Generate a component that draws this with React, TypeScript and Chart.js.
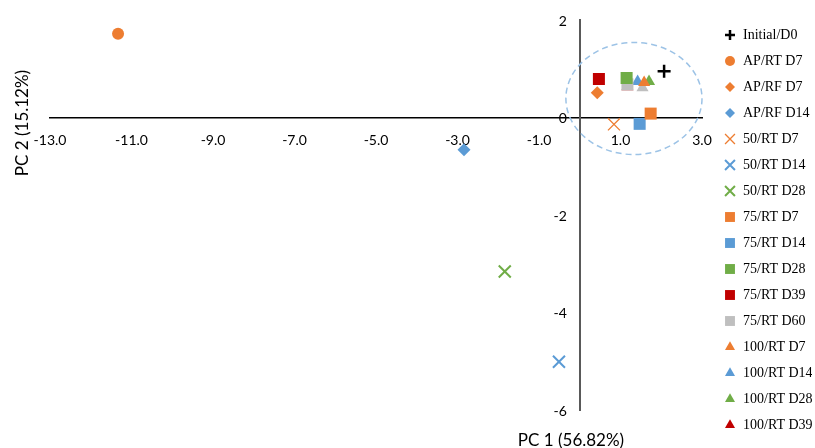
import React, { useEffect, useRef } from "react";
import { Chart, registerables } from "chart.js";
import { drawPoint } from "chart.js/helpers";

Chart.register(...registerables);

// ---- data ----
const seriesLabels = [
  "Initial/D0",
  "AP/RT D7",
  "AP/RF D7",
  "AP/RF D14",
  "50/RT D7",
  "50/RT D14",
  "50/RT D28",
  "75/RT D7",
  "75/RT D14",
  "75/RT D28",
  "75/RT D39",
  "75/RT D60",
  "100/RT D7",
  "100/RT D14",
  "100/RT D28",
  "100/RT D39",
  "100/RT D60",
];
const pc1Values = [2.07, -11.33, 0.43, -2.84, 0.84, -0.51, -1.84, 1.74, 1.47, 1.15, 0.47, 1.17, 1.58, 1.42, 1.7, 1.17, 1.54];
const pc2Values = [0.95, 1.72, 0.51, -0.66, -0.14, -5.01, -3.16, 0.08, -0.13, 0.81, 0.79, 0.68, 0.72, 0.74, 0.74, 0.63, 0.61];
const hiddenFromLegend = ["100/RT D60"];

const xTicksRange = { min: -13, max: 3, step: 2 };
const yTicksRange = { min: -6, max: 2, step: 2 };
const xAxisTitle = "PC 1 (56.82%)";
const yAxisTitle = "PC 2 (15.12%)";

// cluster ellipse in data units
const ellipseCenter = { x: 1.33, y: 0.39 };
const ellipseRadii = { x: 1.67, y: 1.15 };

// ---- styles ----
const ORANGE = "#ED7D31";
const BLUE = "#5B9BD5";
const GREEN = "#70AD47";
const RED = "#C00000";
const GRAY = "#BFBFBF";
const seriesColors = [
  "#000000", ORANGE, ORANGE, BLUE, ORANGE, BLUE, GREEN,
  ORANGE, BLUE, GREEN, RED, GRAY, ORANGE, BLUE, GREEN, RED, GRAY,
];
const seriesStyles = [
  "cross", "circle", "rectRot", "rectRot", "crossRot", "crossRot", "crossRot",
  "rect", "rect", "rect", "rect", "rect", "triangle", "triangle", "triangle", "triangle", "triangle",
];
const styleRadius: Record<string, number> = {
  cross: 6.5, circle: 6, rectRot: 6.5, crossRot: 8.5, rect: 8.5, triangle: 7,
};
const legendRadius: Record<string, number> = {
  cross: 5, circle: 5, rectRot: 5, crossRot: 7, rect: 7, triangle: 5.8,
};

const TICK_FONT = "Lato";

function lineWidthFor(style: string, label: string) {
  if (style === "cross") return 2.5;
  if (style === "crossRot") return label === "50/RT D7" ? 1.3 : 2;
  return 0;
}

function legendMarker(style: string, color: string, lw: number) {
  const c = document.createElement("canvas");
  c.width = 16;
  c.height = 16;
  const ctx = c.getContext("2d")!;
  ctx.fillStyle = color;
  ctx.strokeStyle = color;
  ctx.lineWidth = lw;
  drawPoint(ctx, { pointStyle: style, radius: legendRadius[style], rotation: 0, borderWidth: lw } as any, 8, 8);
  return c;
}

const overlayPlugin = {
  id: "overlay",
  beforeDatasetsDraw(chart: any) {
    const { ctx, scales } = chart;
    const x = scales.x;
    const y = scales.y;
    const cx = x.getPixelForValue(ellipseCenter.x);
    const cy = y.getPixelForValue(ellipseCenter.y);
    const rx = Math.abs(x.getPixelForValue(ellipseCenter.x + ellipseRadii.x) - cx);
    const ry = Math.abs(y.getPixelForValue(ellipseCenter.y + ellipseRadii.y) - cy);
    ctx.save();
    ctx.strokeStyle = "#9DC3E6";
    ctx.lineWidth = 1.5;
    ctx.setLineDash([6, 4]);
    ctx.beginPath();
    ctx.ellipse(cx, cy, rx, ry, 0, 0, Math.PI * 2);
    ctx.stroke();
    ctx.restore();
  },
  afterDraw(chart: any) {
    const { ctx, scales } = chart;
    ctx.save();
    // y tick labels, left of the centred y axis
    const axisX = scales.x.getPixelForValue(0);
    ctx.fillStyle = "#000";
    ctx.font = `14px ${TICK_FONT}`;
    ctx.textAlign = "right";
    ctx.textBaseline = "middle";
    scales.y.ticks.forEach((t: any) => {
      ctx.fillText(String(Math.round(t.value)), axisX - 13, scales.y.getPixelForValue(t.value) + 1);
    });
    // axis titles
    ctx.font = `17px ${TICK_FONT}`;
    ctx.textAlign = "center";
    ctx.textBaseline = "alphabetic";
    ctx.fillText(xAxisTitle, 571, 446);
    ctx.translate(28, 123);
    ctx.rotate(-Math.PI / 2);
    ctx.fillText(yAxisTitle, 0, 0);
    ctx.restore();
  },
};

export default function App() {
  const canvasRef = useRef<HTMLCanvasElement | null>(null);

  useEffect(() => {
    if (!canvasRef.current) return;
    const datasets = seriesLabels.map((label, i) => {
      const style = seriesStyles[i];
      return {
        label,
        data: [{ x: pc1Values[i], y: pc2Values[i] }],
        pointStyle: style,
        pointRadius: styleRadius[style],
        pointHoverRadius: styleRadius[style],
        backgroundColor: seriesColors[i],
        borderColor: seriesColors[i],
        borderWidth: lineWidthFor(style, label),
        showLine: false,
      };
    });

    const defaultGen = (Chart as any).defaults.plugins.legend.labels.generateLabels;

    const chart = new Chart(canvasRef.current, {
      type: "scatter",
      data: { datasets },
      plugins: [overlayPlugin],
      options: {
        animation: false,
        responsive: true,
        maintainAspectRatio: false,
        layout: { padding: { left: 50, top: 12, right: 3, bottom: 0 } },
        plugins: {
          tooltip: { enabled: false },
          legend: {
            position: "right",
            align: "center",
            maxWidth: 100,
            labels: {
              usePointStyle: true,
              boxWidth: 12,
              boxHeight: 7,
              padding: 12,
              color: "#000",
              font: { family: "'Liberation Serif', 'Times New Roman', serif", size: 14 },
              filter: (item: any) => !hiddenFromLegend.includes(item.text),
              generateLabels: (ch: any) =>
                defaultGen(ch).map((item: any) => {
                  const i = item.datasetIndex;
                  const style = seriesStyles[i];
                  return {
                    ...item,
                    pointStyle: legendMarker(style, seriesColors[i], lineWidthFor(style, seriesLabels[i])),
                  };
                }),
            },
          },
        },
        scales: {
          x: {
            type: "linear",
            position: { y: 0 } as any,
            min: xTicksRange.min,
            max: xTicksRange.max,
            grid: { display: false, drawTicks: false },
            border: { display: true, color: "#000", width: 1.5 },
            ticks: {
              stepSize: xTicksRange.step,
              padding: 15,
              color: "#000",
              font: { family: TICK_FONT, size: 14 },
              callback: (v: any) => Number(v).toFixed(1),
            },
          },
          y: {
            type: "linear",
            position: { x: 0 } as any,
            min: yTicksRange.min,
            max: yTicksRange.max,
            grid: { display: false, drawTicks: false },
            border: { display: true, color: "#595959", width: 2 },
            ticks: {
              stepSize: yTicksRange.step,
              display: false,
              font: { family: TICK_FONT, size: 14 },
            },
          },
          xTop: {
            type: "linear",
            axis: "x",
            position: "top",
            display: true,
            grid: { display: false, drawTicks: false },
            border: { display: false },
            ticks: { display: false },
            title: { display: true, text: "", font: { size: 8, lineHeight: 1 }, padding: 0 },
          },
          xBottom: {
            type: "linear",
            axis: "x",
            position: "bottom",
            display: true,
            grid: { display: false, drawTicks: false },
            border: { display: false },
            ticks: { display: false },
            title: { display: true, text: "", font: { size: 10, lineHeight: 1 }, padding: { top: 28, bottom: 0 } },
          },
          yRight: {
            type: "linear",
            axis: "y",
            position: "right",
            display: true,
            grid: { display: false, drawTicks: false },
            border: { display: false },
            ticks: { display: false },
            title: { display: true, text: "", font: { size: 10, lineHeight: 1 }, padding: 0 },
          },
        } as any,
      },
    });
    return () => chart.destroy();
  }, []);

  return (
    <div style={{ position: "absolute", left: 0, top: 0, width: 815, height: 448, background: "#fff" }}>
      <canvas ref={canvasRef} />
    </div>
  );
}
